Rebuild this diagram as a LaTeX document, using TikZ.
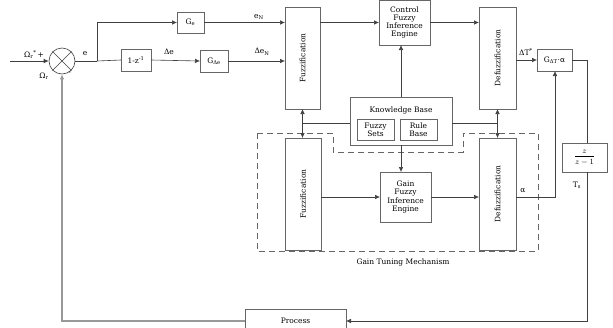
\documentclass[tikz,border=0pt]{standalone}
\usepackage{fontspec}
\setmainfont{DejaVu Serif}
\usetikzlibrary{arrows.meta}
\begin{document}
\begin{tikzpicture}[x=1pt,y=-1pt,
  box/.style={draw=black!60, line width=0.7pt, inner sep=0pt, outer sep=0pt, align=center, font=\fontsize{7.5}{8.2}\selectfont},
  lbl/.style={inner sep=0pt, font=\fontsize{7.5}{8.2}\selectfont},
  conn/.style={draw=black!75, line width=0.6pt},
  arr/.style={conn, -{Latex[length=5pt,width=4.5pt]}},
  darr/.style={conn, {Latex[length=5pt,width=4.5pt]}-{Latex[length=5pt,width=4.5pt]}},
  fb/.style={draw=black!40, line width=1.1pt, -{Latex[length=5pt,width=4.5pt]}}
]
\path[use as bounding box] (0,0) rectangle (613,327);

% gain tuning dashed region
\draw[black!60, line width=0.6pt, dash pattern=on 6pt off 4pt]
  (257,133) -- (333,133) -- (333,152) -- (463,152) -- (463,133) -- (538,133)
  -- (538,251) -- (257,251) -- cycle;
\node[lbl] (gtm) at (403,262) {Gain Tuning Mechanism};

% summing junction
\node[draw=black!75, line width=0.6pt, circle, minimum size=26pt, inner sep=0pt] (sum) at (62,61) {};
\draw[conn] (sum.north west) -- (sum.south east);
\draw[conn] (sum.north east) -- (sum.south west);
\coordinate (inp) at (10,61);
\coordinate (j1) at (97,61);

% blocks
\node[box, minimum width=27pt, minimum height=21pt] (ge) at (190.5,22.5) {G\textsubscript{e}};
\node[box, minimum width=30pt, minimum height=22pt] (onez) at (136,60) {1-z\textsuperscript{-1}};
\node[box, minimum width=28pt, minimum height=22pt] (gde) at (214,61) {G\textsubscript{Δe}};
\node[box, minimum width=35pt, minimum height=102pt] (fuzz1) at (302.5,58) {\rotatebox{90}{Fuzzification}};
\node[box, minimum width=51pt, minimum height=45pt] (cfie) at (404.5,22.5) {Control\\Fuzzy\\Inference\\Engine};
\node[box, minimum width=37pt, minimum height=102pt] (defuzz1) at (497.5,58) {\rotatebox{90}{Defuzzification}};
\node[box, minimum width=35pt, minimum height=22pt] (gdt) at (554.5,60) {G\textsubscript{ΔT}·α};
\node[box, minimum width=102pt, minimum height=48pt] (kb) at (401,121) {};
\node[lbl] (kbt) at (401,110) {Knowledge Base};
\node[box, minimum width=37pt, minimum height=21pt] (fs) at (375.5,129.5) {Fuzzy\\Sets};
\node[box, minimum width=37pt, minimum height=21pt] (rb) at (418.5,129.5) {Rule\\Base};
\node[box, minimum width=36pt, minimum height=112pt] (fuzz2) at (303,194) {\rotatebox{90}{Fuzzification}};
\node[box, minimum width=51pt, minimum height=50pt] (gfie) at (405.5,197) {Gain\\Fuzzy\\Inference\\Engine};
\node[box, minimum width=37pt, minimum height=112pt] (defuzz2) at (497.5,194) {\rotatebox{90}{Defuzzification}};
\node[box, minimum width=45pt, minimum height=29pt, font=\fontsize{8}{9}\selectfont] (zf) at (584.5,157.5) {$\displaystyle\frac{z}{z-1}$};
\node[box, minimum width=101pt, minimum height=24pt] (proc) at (295.5,321) {Process};

% labels
\node[lbl] at (34,55) {Ω\textsubscript{r}\textsuperscript{*}\,+};
\node[lbl] at (44,76) {Ω\textsubscript{r}};
\node[lbl] at (70,73) {-};
\node[lbl] at (85,54) {e};
\node[lbl] at (169,52) {Δe};
\node[lbl] at (259,17) {e\textsubscript{N}};
\node[lbl] at (262,52) {Δe\textsubscript{N}};
\node[lbl] at (526,52) {ΔT\textsuperscript{*}};
\node[lbl] at (523,191) {α};
\node[lbl] at (577,185) {T\textsubscript{s}};

% connectors
\draw[arr] (inp) -- (sum.west);
\draw[conn] (sum.east) -- (j1);
\draw[arr] (j1) |- (ge.west);
\draw[conn] (j1) -- (onez.west);
\draw[arr] (onez.east) -- (gde.west);
\draw[arr] (ge.east) -- (ge.east -| fuzz1.west);
\draw[arr] (gde.east) -- (gde.east -| fuzz1.west);
\draw[arr] (fuzz1.east |- cfie.west) -- (cfie.west);
\draw[arr] (cfie.east) -- (cfie.east -| defuzz1.west);
\draw[arr] (defuzz1.east |- gdt.west) -- (gdt.west);
\coordinate (rc) at (587,60);
\coordinate (rb2) at (587,321);
\draw[conn] (gdt.east) -- (rc) -- (rc |- zf.north);
\draw[arr] (rc |- zf.south) -- (rb2) -- (proc.east);
\coordinate (lb) at (62,321);
\draw[fb] (proc.west) -- (lb) -- (sum.south);
\draw[arr] (kb.north) -- (kb.north |- cfie.south);
\coordinate (kl) at (302.5,123);
\coordinate (kr) at (497.5,123);
\draw[conn] (kb.west |- kl) -- (kl);
\draw[conn] (kb.east |- kr) -- (kr);
\draw[darr] (fuzz1.south) -- (fuzz2.north -| fuzz1.south);
\draw[darr] (defuzz1.south) -- (defuzz2.north);
\draw[arr] (kb.south) -- (kb.south |- gfie.north);
\draw[arr] (fuzz2.east |- gfie.west) -- (gfie.west);
\draw[arr] (gfie.east) -- (gfie.east -| defuzz2.west);
\coordinate (ac) at (555,197);
\draw[arr] (defuzz2.east |- ac) -- (ac) -- (gdt.south -| ac);
\end{tikzpicture}
\end{document}
